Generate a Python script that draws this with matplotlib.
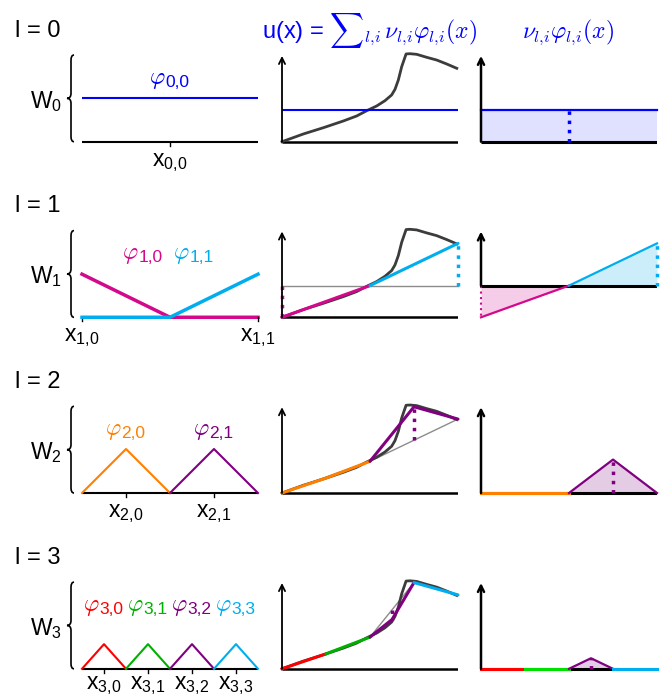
import numpy as np
import matplotlib
matplotlib.use("Agg")
import matplotlib.pyplot as plt
from matplotlib.path import Path
from matplotlib.patches import PathPatch

plt.rcParams["font.family"] = ["Liberation Sans", "DejaVu Sans"]
plt.rcParams["mathtext.fontset"] = "custom"
plt.rcParams["mathtext.rm"] = "Liberation Sans"
plt.rcParams["mathtext.it"] = "Liberation Sans:italic"
plt.rcParams["mathtext.bf"] = "Liberation Sans:bold"
plt.rcParams["mathtext.sf"] = "Liberation Sans"

# ---------------- data ----------------
u_x = [0.0, 0.121, 0.235, 0.348, 0.424, 0.481, 0.538, 0.585, 0.623, 0.642,
       0.661, 0.68, 0.705, 0.727, 0.765, 0.822, 0.879, 0.936, 0.993]
u_y = [0.0, 0.0875, 0.159, 0.235, 0.292, 0.352, 0.406, 0.466, 0.531, 0.595,
       0.701, 0.852, 0.997, 1.0, 0.993, 0.959, 0.928, 0.883, 0.834]

level_names = ["l = 0", "l = 1", "l = 2", "l = 3"]
space_labels = ["W$_0$", "W$_1$", "W$_2$", "W$_3$"]
nodes = [[0.5], [0.0, 1.0], [0.25, 0.75], [0.125, 0.375, 0.625, 0.875]]
node_values = [[0.36], [0.0, 0.84], [0.17, 0.98], [0.085, 0.265, 0.56, 0.91]]
surpluses = [[0.36], [-0.36, 0.48], [0.0, 0.38], [0.0, 0.0, 0.12, 0.0]]
basis_heights = [0.5, 0.49, 0.5, 0.28]
index_labels = [["0,0"], ["1,0", "1,1"], ["2,0", "2,1"], ["3,0", "3,1", "3,2", "3,3"]]
basis_colors = [["#0000ff"], ["#d4088c", "#00aeef"], ["#ff8000", "#800080"],
                ["#ff0000", "#00b000", "#800080", "#00aeef"]]
surplus_colors = [["#0000ff"], ["#d4088c", "#00aeef"], ["#ff8000", "#800080"],
                  ["#ff0000", "#00e000", "#800080", "#00aeef"]]
title_mid = r"u(x) = ${\sum}_{l{,}i}\,\nu_{l{,}i}\varphi_{l{,}i}(x)$"
title_right = r"$\nu_{l{,}i}\varphi_{l{,}i}(x)$"

# ---------------- layout ----------------
W, H = 661, 696
S = 88.0      # px per unit (vertical)
PW = 176.0    # panel width px
row_base = [141.7, 317.3, 493.0, 668.8]
col_left = [82, 282, 481]
xlabel_drop = [24, 24, 24, 20]
phi_label_x = [[0.5], [0.345, 0.636], [0.25, 0.75], [0.125, 0.375, 0.625, 0.875]]

fig = plt.figure(figsize=(W / 100, H / 100), dpi=100)


def make_ax(x_left_px, base_px):
    below, above = 40, 125
    rect = [x_left_px / W, (H - base_px - below) / H, PW / W, (below + above) / H]
    ax = fig.add_axes(rect)
    ax.set_xlim(0, 1)
    ax.set_ylim(-below / S, above / S)
    ax.axis("off")
    ax.patch.set_alpha(0)
    return ax


def support(level, c):
    h = 0.5 ** max(level, 1)
    pts = [p for p in (c - h, c, c + h) if -1e-9 <= p <= 1 + 1e-9]
    return np.array(pts), h


def all_nodes(level):
    xs = np.concatenate([nodes[k] for k in range(level + 1)])
    vs = np.concatenate([node_values[k] for k in range(level + 1)])
    o = np.argsort(xs)
    return xs[o], vs[o]


def approx(level, x):
    x = np.asarray(x, dtype=float)
    if level == 0:
        return np.full_like(x, node_values[0][0])
    xs, vs = all_nodes(level)
    return np.interp(x, xs, vs)


def yaxis_arrow(ax, y0, y1, lw):
    ax.annotate("", xy=(0, y1), xytext=(0, y0), annotation_clip=False,
                arrowprops=dict(arrowstyle="->", lw=lw, color="k",
                                shrinkA=0, shrinkB=0, mutation_scale=11))


def brace(ax, y0, y1):
    x_line, x_tip, x_end = -11 / PW, -15 / PW, -8 / PW
    r = 5 / S
    ym = 0.5 * (y0 + y1)
    verts = [(x_end, y1), (x_line, y1), (x_line, y1 - r), (x_line, ym + r),
             (x_line, ym), (x_tip, ym), (x_line, ym), (x_line, ym - r),
             (x_line, y0 + r), (x_line, y0), (x_end, y0)]
    codes = [Path.MOVETO, Path.CURVE3, Path.CURVE3, Path.LINETO, Path.CURVE3,
             Path.CURVE3, Path.CURVE3, Path.CURVE3, Path.LINETO, Path.CURVE3,
             Path.CURVE3]
    ax.add_patch(PathPatch(Path(verts, codes), fill=False, lw=1.2, color="k",
                           clip_on=False))


def phi_label(ax, x, y, sub, color):
    ax.annotate(r"$\varphi$", (x, y), xytext=(-3.2, 2.2), textcoords="offset points",
                ha="right", va="baseline", color=color, fontsize=17,
                math_fontfamily="cm", annotation_clip=False)
    ax.annotate(sub, (x, y), xytext=(-3.2, 0), textcoords="offset points",
                ha="left", va="baseline", color=color, fontsize=12.5,
                annotation_clip=False)


for l in range(4):
    base = row_base[l]
    # ---------- left: basis functions ----------
    ax = make_ax(col_left[0], base)
    ax.text(-67 / PW, 105 / S, level_names[l], fontsize=17, ha="left", va="baseline")
    ax.text(-20 / PW, 34 / S, space_labels[l], fontsize=16.5, ha="right", va="baseline")
    brace(ax, 0.0, 0.985)
    ax.plot([0, 1], [0, 0], color="k", lw=1.5, solid_capstyle="butt")
    hh = basis_heights[l]
    lw_basis = [1.5, 2.5, 1.5, 1.5][l]
    for k, c in enumerate(nodes[l]):
        col = basis_colors[l][k]
        if l == 0:
            ax.plot([0, 1], [hh, hh], color=col, lw=lw_basis)
        else:
            pts, h = support(l, c)
            xs = [0, 0.5, 1] if l == 1 else pts
            ys = [hh * max(0, 1 - abs(p - c) / h) for p in xs]
            ax.plot(xs, ys, color=col, lw=lw_basis, clip_on=False)
        ax.plot([c, c], [0, -4 / S], color="k", lw=1, clip_on=False)
        sub = index_labels[l][k].replace(",", "{,}")
        ax.text(c, -xlabel_drop[l] / S, "x$_{%s}$" % sub, fontsize=16.5,
                ha="center", va="baseline", clip_on=False)
        phi_label(ax, phi_label_x[l][k], 0.625, index_labels[l][k], col)

    # ---------- middle: function and approximation ----------
    ax = make_ax(col_left[1], base)
    ax.plot([0, 1], [0, 0], color="k", lw=1.8, solid_capstyle="butt")
    yaxis_arrow(ax, 0, 0.975, 1.3)
    if l >= 1:
        grid = np.unique(np.concatenate([[0.0, 1.0], all_nodes(l)[0]]))
        ax.plot(grid, approx(l - 1, grid), color="#8c8c8c", lw=1.0, clip_on=False)
    ax.plot(u_x, u_y, color="#3c3c3c", lw=2.0, clip_on=False)
    if l == 0:
        ax.plot([0, 1], [node_values[0][0]] * 2, color=basis_colors[0][0], lw=1.5)
    else:
        for k, c in enumerate(nodes[l]):
            col = basis_colors[l][k]
            pts, h = support(l, c)
            ax.plot(pts, approx(l, pts), color=col, lw=2.2, clip_on=False,
                    solid_capstyle="round")
        for k, c in enumerate(nodes[l]):
            col = basis_colors[l][k]
            y_old, y_new = approx(l - 1, c), approx(l, c)
            if abs(y_new - y_old) > 1e-6:
                ax.plot([c, c], [y_old, y_new], color=col, lw=2.5, ls=":",
                        gapcolor="white" if c == 0 else None, clip_on=False)

    # ---------- right: hierarchical contributions ----------
    smin = min(0.0, min(surpluses[l]))
    ax = make_ax(col_left[2], base + smin * S)
    ax.plot([0, 1], [0, 0], color="k", lw=2.2, solid_capstyle="butt")
    yaxis_arrow(ax, 0, smin + 0.975, 1.8)
    for k, c in enumerate(nodes[l]):
        col = surplus_colors[l][k]
        s = surpluses[l][k]
        if l == 0:
            xs = np.array([0.0, 1.0])
            ys = np.array([s, s])
        else:
            xs, h = support(l, c)
            ys = np.array([s * max(0, 1 - abs(p - c) / h) for p in xs])
        if s != 0:
            ax.fill_between(xs, 0, ys, color=col, alpha=0.12 if l == 0 else 0.2,
                            lw=0)
        ax.plot(xs, ys, color=col, lw=1.6 if s != 0 else 2.2, clip_on=False)
        if s != 0:
            ax.plot([c, c], [0, s], color=col, lw=1.5 if s < 0 else 2.5, ls=":",
                    clip_on=False)

fig.text(369 / W, 1 - 38 / H, title_mid, color="#0000ff", fontsize=17,
         ha="center", va="baseline", math_fontfamily="cm")
fig.text(568 / W, 1 - 38 / H, title_right, color="#0000ff", fontsize=17,
         ha="center", va="baseline", math_fontfamily="cm")

fig.savefig("out.png", dpi=100)
